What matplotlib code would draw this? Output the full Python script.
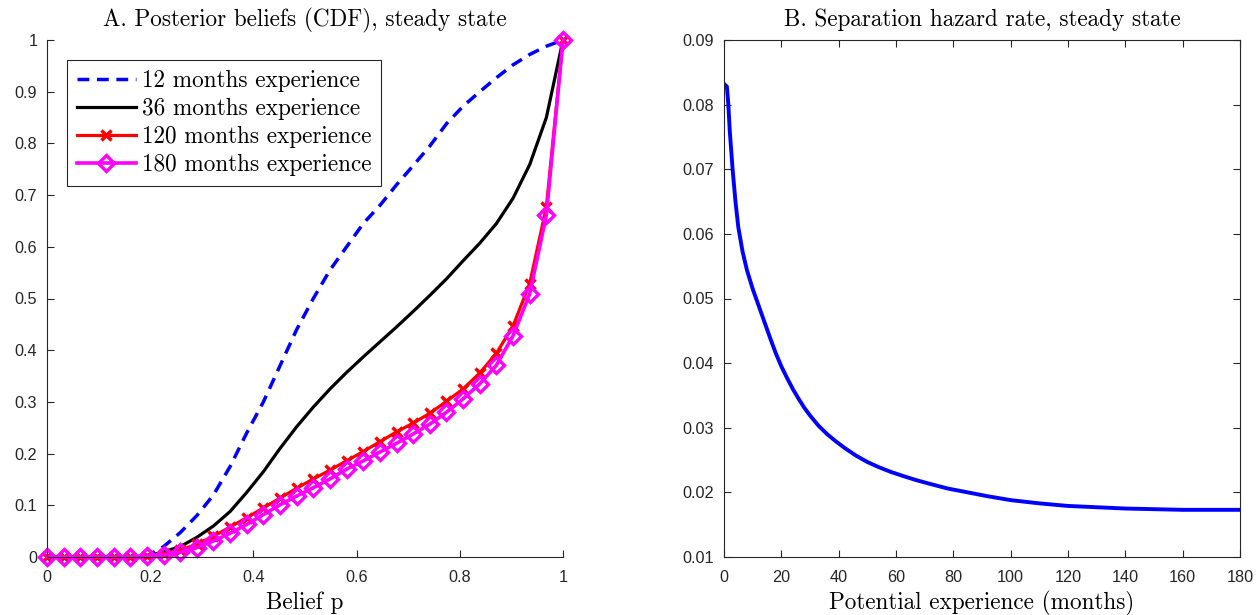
import numpy as np
import matplotlib
matplotlib.use("Agg")
import matplotlib.pyplot as plt
from matplotlib.ticker import FuncFormatter

# Panel A: posterior belief CDFs on a 32 point belief grid
belief_grid = np.linspace(0, 1, 32)

cdf_12 = [0, 0, 0, 0, 0, 0, 0.002, 0.02, 0.047, 0.08, 0.12, 0.175, 0.24, 0.30,
          0.37, 0.44, 0.50, 0.555, 0.60, 0.645, 0.68, 0.72, 0.757, 0.795, 0.838,
          0.872, 0.90, 0.927, 0.952, 0.972, 0.988, 1.0]
cdf_36 = [0, 0, 0, 0, 0, 0, 0.002, 0.01, 0.02, 0.038, 0.06, 0.088, 0.125, 0.165,
          0.21, 0.252, 0.29, 0.325, 0.357, 0.387, 0.416, 0.445, 0.475, 0.506,
          0.538, 0.573, 0.607, 0.645, 0.694, 0.759, 0.85, 1.0]
cdf_120 = [0, 0, 0, 0, 0, 0, 0.002, 0.006, 0.013, 0.025, 0.04, 0.058, 0.076, 0.095,
           0.114, 0.133, 0.151, 0.168, 0.186, 0.204, 0.223, 0.242, 0.259, 0.278,
           0.301, 0.325, 0.356, 0.394, 0.447, 0.529, 0.677, 1.0]
cdf_180 = [0, 0, 0, 0, 0, 0, 0.002, 0.004, 0.009, 0.018, 0.031, 0.046, 0.063, 0.082,
           0.101, 0.118, 0.134, 0.151, 0.17, 0.186, 0.203, 0.22, 0.238, 0.257,
           0.28, 0.306, 0.335, 0.371, 0.428, 0.509, 0.661, 1.0]

legend_labels = ["12 months experience", "36 months experience",
                 "120 months experience", "180 months experience"]

# Panel B: separation hazard by potential experience
months = [0, 1, 1.5, 2, 3, 4, 5, 6.5, 8, 10, 12, 14, 16, 18, 20, 22, 24, 26, 28,
          30, 33, 36, 39, 42, 46, 50, 54, 58, 62, 67, 72, 78, 85, 92, 100, 110,
          120, 130, 140, 150, 160, 170, 180]
hazard = [0.0832, 0.0828, 0.0801, 0.0760, 0.0700, 0.0650, 0.0610, 0.0572, 0.0544,
          0.0515, 0.0490, 0.0465, 0.0440, 0.0416, 0.0395, 0.0377, 0.0360, 0.0345,
          0.0331, 0.0319, 0.0303, 0.0290, 0.0279, 0.0269, 0.0257, 0.0247, 0.0239,
          0.0232, 0.0226, 0.0219, 0.0213, 0.0206, 0.0200, 0.0194, 0.0188, 0.0183,
          0.0179, 0.0177, 0.0175, 0.0174, 0.0173, 0.0173, 0.0173]

serif = "cmr10"
tick_font = "Liberation Sans"
dark = "#262626"

fig = plt.figure(figsize=(12.6, 6.15), dpi=100)
ax1 = fig.add_axes([47 / 1260, 1 - 557 / 615, 516 / 1260, 517 / 615])
ax2 = fig.add_axes([724 / 1260, 1 - 557 / 615, 516 / 1260, 517 / 615])

gfmt = FuncFormatter(lambda v, pos: "{:g}".format(round(v, 4)))

# --- panel A
ax1.plot(belief_grid, cdf_12, color="blue", lw=2.5, dashes=[3.4, 2.2],
         label=legend_labels[0], clip_on=False)
ax1.plot(belief_grid, cdf_36, color="black", lw=2.3, label=legend_labels[1],
         clip_on=False)
ax1.plot(belief_grid, cdf_120, color="red", lw=2.3, marker="x", ms=6.5, mew=2.5,
         label=legend_labels[2], clip_on=False)
ax1.plot(belief_grid, cdf_180, color="magenta", lw=2.6, marker="D", ms=8,
         mew=2.4, mfc="none", label=legend_labels[3], clip_on=False)

ax1.set_xlim(0, 1)
ax1.set_ylim(0, 1)
ax1.set_xticks(np.arange(0, 1.01, 0.2))
ax1.set_yticks(np.arange(0, 1.01, 0.1))
ax1.spines["top"].set_visible(False)
ax1.spines["right"].set_visible(False)
ax1.set_title("A. Posterior beliefs (CDF), steady state", family=serif,
              fontsize=16.7, pad=10)
ax1.set_xlabel("Belief p", family=serif, fontsize=16.7, labelpad=5)
leg = ax1.legend(loc="upper left", bbox_to_anchor=(0.039, 0.961),
                 prop={"family": serif, "size": 16.7}, fancybox=False,
                 edgecolor=dark, framealpha=1, handlelength=2.55,
                 borderpad=0.42, labelspacing=0.26, handletextpad=0.26,
                 borderaxespad=0)
leg.get_frame().set_linewidth(0.8)

# --- panel B
ax2.plot(months, hazard, color="blue", lw=2.8)
ax2.set_xlim(0, 180)
ax2.set_ylim(0.01, 0.09)
ax2.set_xticks(np.arange(0, 181, 20))
ax2.set_yticks(np.arange(0.01, 0.0901, 0.01))
ax2.set_title("B. Separation hazard rate, steady state", family=serif,
              fontsize=16.7, pad=10)
ax2.set_xlabel("Potential experience (months)", family=serif, fontsize=16.7,
               labelpad=5)
ax2.tick_params(top=True, right=True)

for ax in (ax1, ax2):
    ax.xaxis.set_major_formatter(gfmt)
    ax.yaxis.set_major_formatter(gfmt)
    ax.tick_params(direction="in", length=5, width=0.8, color=dark,
                   labelcolor=dark, labelsize=11.7)
    ax.tick_params(axis="x", pad=9)
    ax.tick_params(axis="y", pad=7)
    for lab in ax.get_xticklabels() + ax.get_yticklabels():
        lab.set_family(tick_font)
    for sp in ax.spines.values():
        sp.set_color(dark)
        sp.set_linewidth(0.8)

fig.savefig("out.png", dpi=100)
